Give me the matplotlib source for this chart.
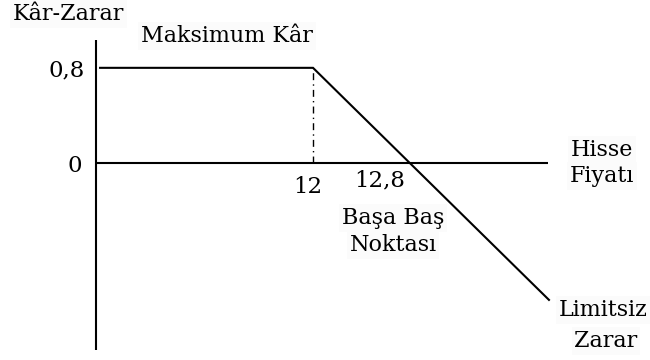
import matplotlib
matplotlib.use("Agg")
import matplotlib.pyplot as plt
from matplotlib.transforms import blended_transform_factory

# Short call position: strike, premium received, breakeven
strike = 12.0
premium = 0.8
breakeven = 12.8

# Profit/loss profile
price = [10.24, 12.0, 13.95]
profit = [0.8, 0.8, -1.15]

# Axis extents (data units)
axis_x0, axis_x1 = 10.21, 13.94
axis_y0, axis_y1 = -1.57, 1.03

tick_y_labels = ["0,8", "0"]
tick_x_labels = ["12", "12,8"]

W, H = 650, 360
fig = plt.figure(figsize=(W / 100, H / 100), dpi=100)
ax = fig.add_axes([0, 0, 1, 1])
ax.axis("off")
ax.set_xlim(9.413, 14.785)
ax.set_ylim(-1.655, 1.370)

ink = "black"
# axes
ax.plot([axis_x0, axis_x0], [axis_y0, axis_y1], color=ink, lw=1.5, solid_capstyle="butt")
ax.plot([axis_x0, axis_x1], [0, 0], color=ink, lw=1.5, solid_capstyle="butt")
# payoff
ax.plot(price, profit, color=ink, lw=1.5, solid_joinstyle="miter")
# strike marker
ax.plot([strike, strike], [0, premium], color=ink, lw=1.0, linestyle=(0, (5, 3, 1, 3)))

serif = "DejaVu Serif"
bg = dict(facecolor="#fbfbfb", edgecolor="none", pad=2)
word_size = 16
num_size = 16.5


def fig_text(px, py, s, ha="center", size=word_size):
    fig.text(px / W, 1 - py / H, s, ha=ha, va="baseline", fontsize=size,
             family=serif, color=ink, bbox=bg)


fig_text(13, 20, "Kâr-Zarar", ha="left")
fig_text(227, 42, "Maksimum Kâr")
fig_text(602, 156, "Hisse")
fig_text(602, 182, "Fiyatı")
fig_text(393, 224, "Başa Baş")
fig_text(393, 251, "Noktası")
fig_text(603, 316, "Limitsiz")
fig_text(606, 347, "Zarar")

# y tick labels
ytr = blended_transform_factory(fig.transFigure, ax.transData)
ax.text(85 / W, premium, tick_y_labels[0], transform=ytr, ha="right", va="center_baseline",
        fontsize=num_size, family=serif, color=ink)
ax.text(82 / W, 0, tick_y_labels[1], transform=ytr, ha="right", va="center_baseline",
        fontsize=num_size, family=serif, color=ink)

# x tick labels
xtr = blended_transform_factory(ax.transData, fig.transFigure)
ax.text(strike - 0.04, 1 - 193 / H, tick_x_labels[0], transform=xtr, ha="center",
        va="baseline", fontsize=num_size, family=serif, color=ink)
ax.text(breakeven - 0.25, 1 - 186 / H, tick_x_labels[1], transform=xtr, ha="center",
        va="baseline", fontsize=num_size, family=serif, color=ink)

fig.savefig("out.png", dpi=100, facecolor="white")
